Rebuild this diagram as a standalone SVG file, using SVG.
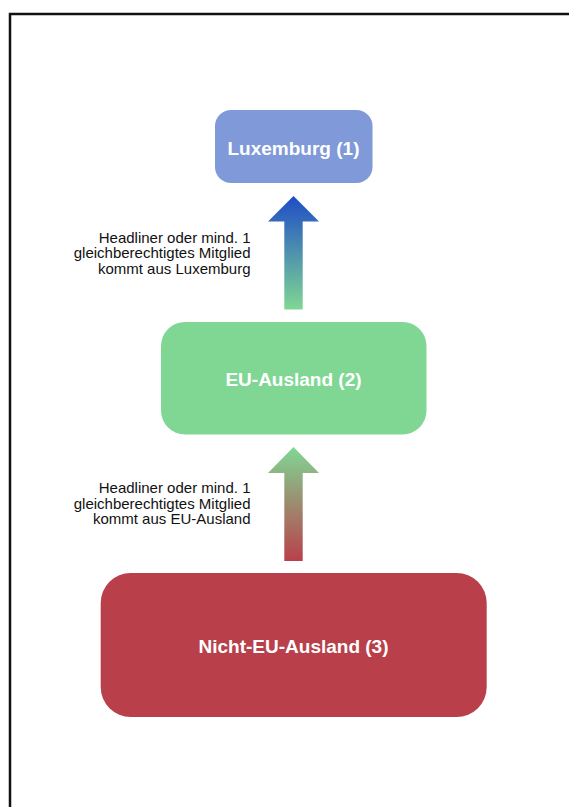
<svg xmlns="http://www.w3.org/2000/svg" width="569" height="807" viewBox="0 0 569 807">
<defs>
<linearGradient id="g1" x1="0" y1="0" x2="0" y2="1">
<stop offset="0" stop-color="#1E4CC6"/>
<stop offset="1" stop-color="#80D794"/>
</linearGradient>
<linearGradient id="g2" x1="0" y1="0" x2="0" y2="1">
<stop offset="0" stop-color="#80D794"/>
<stop offset="1" stop-color="#B9404B"/>
</linearGradient>
<style>
.box-text{font-family:"Liberation Sans",Arial,sans-serif;font-weight:bold;font-size:19px;fill:#ffffff;text-anchor:middle}
.lbl{font-family:"Liberation Sans",Arial,sans-serif;font-size:15px;fill:#111111;text-anchor:end}
</style>
</defs>
<rect x="0" y="0" width="569" height="807" fill="#ffffff"/>
<rect x="10" y="14" width="600" height="850" fill="none" stroke="#111111" stroke-width="2.5"/>
<g id="connectors">
<path d="M293.5 196 L319 221.5 L302.7 221.5 L302.7 309.5 L284.3 309.5 L284.3 221.5 L268 221.5 Z" fill="url(#g1)"/>
<path d="M293.5 447 L319 473 L302.7 473 L302.7 561 L284.3 561 L284.3 473 L268 473 Z" fill="url(#g2)"/>
<text class="lbl" x="250.5"><tspan x="250.5" y="242.5">Headliner oder mind. 1</tspan><tspan x="250.5" y="258">gleichberechtigtes Mitglied</tspan><tspan x="250.5" y="273.5">kommt aus Luxemburg</tspan></text>
<text class="lbl" x="250.5"><tspan x="250.5" y="493">Headliner oder mind. 1</tspan><tspan x="250.5" y="508.5">gleichberechtigtes Mitglied</tspan><tspan x="250.5" y="524">kommt aus EU-Ausland</tspan></text>
</g>
<g id="node-luxemburg">
<rect x="215" y="110" width="157.5" height="73" rx="16" fill="#7F99D9"/>
<text class="box-text" x="293.5" y="154.5">Luxemburg (1)</text>
</g>
<g id="node-eu">
<rect x="161" y="322" width="265.5" height="112.5" rx="24" fill="#80D794"/>
<text class="box-text" x="293.5" y="385.5">EU-Ausland (2)</text>
</g>
<g id="node-nicht-eu">
<rect x="100.7" y="573" width="386" height="144" rx="30" fill="#B9404B"/>
<text class="box-text" x="293.5" y="652.5">Nicht-EU-Ausland (3)</text>
</g>
</svg>
